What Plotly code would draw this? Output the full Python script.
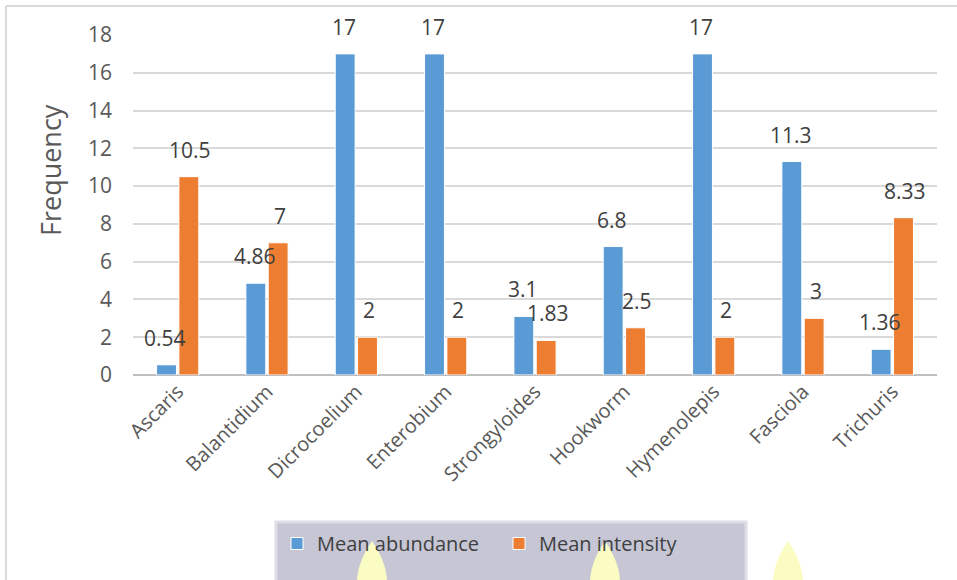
import plotly.graph_objects as go

categories = ["Ascaris", "Balantidium", "Dicrocoelium", "Enterobium", "Strongyloides",
              "Hookworm", "Hymenolepis", "Fasciola", "Trichuris"]
mean_abundance = [0.54, 4.86, 17, 17, 3.1, 6.8, 17, 11.3, 1.36]
mean_intensity = [10.5, 7, 2, 2, 1.83, 2.5, 2, 3, 8.33]
abundance_labels = ["0.54", "4.86", "17", "17", "3.1", "6.8", "17", "11.3", "1.36"]
intensity_labels = ["10.5", "7", "2", "2", "1.83", "2.5", "2", "3", "8.33"]
y_ticks = [0, 2, 4, 6, 8, 10, 12, 14, 16, 18]
y_title = "Frequency"

BLUE = "#5b9bd5"
ORANGE = "#ed7d31"
TXT = "#595959"
FONT = "'Open Sans', sans-serif"

W, H = 957, 580
L, R, T, B = 133, 20, 35, 205
pw, ph = W - L - R, H - T - B

def px_x(px):
    return (px - L) / pw

def px_y(py):
    return (H - B - py) / ph

fig = go.Figure()
fig.add_trace(go.Bar(x=categories, y=mean_abundance, name="Mean abundance",
                     marker=dict(color=BLUE, line=dict(color="white", width=1))))
fig.add_trace(go.Bar(x=categories, y=mean_intensity, name="Mean intensity",
                     marker=dict(color=ORANGE, line=dict(color="white", width=1))))

annotations = []
for c, v, t in zip(categories, mean_abundance, abundance_labels):
    annotations.append(dict(x=c, y=v, text=t, showarrow=False, xshift=-12.5, yshift=11,
                            yanchor="bottom", font=dict(size=21, color="#404040", family=FONT)))
for c, v, t in zip(categories, mean_intensity, intensity_labels):
    annotations.append(dict(x=c, y=v, text=t, showarrow=False, xshift=12.5, yshift=11,
                            yanchor="bottom", font=dict(size=21, color="#404040", family=FONT)))
# y-axis title (placed as in the original, above the axis centre)
annotations.append(dict(xref="paper", yref="paper", x=px_x(50), y=px_y(170), text=y_title,
                        textangle=-90, showarrow=False, xanchor="center", yanchor="middle",
                        font=dict(size=27, color=TXT, family=FONT)))

shapes = [
    # outer chart border (left and top)
    dict(type="line", xref="paper", yref="paper", x0=px_x(6), x1=px_x(6), y0=px_y(6), y1=px_y(580),
         line=dict(color="#d9d9d9", width=2), layer="below"),
    dict(type="line", xref="paper", yref="paper", x0=px_x(6), x1=px_x(957), y0=px_y(6), y1=px_y(6),
         line=dict(color="#d9d9d9", width=2), layer="below"),
    # legend background box
    dict(type="rect", xref="paper", yref="paper", x0=px_x(276), x1=px_x(746), y0=px_y(522), y1=px_y(582),
         fillcolor="#c6c6d5", line=dict(color="#dedee8", width=3), layer="below"),
]
# light yellow watermark drops
for cx in [372, 605, 788]:
    shapes.append(dict(type="path", xref="paper", yref="paper",
                       path=(f"M {px_x(cx)},{px_y(541)} "
                             f"C {px_x(cx+8)},{px_y(552)} {px_x(cx+15)},{px_y(568)} {px_x(cx+15)},{px_y(582)} "
                             f"L {px_x(cx-15)},{px_y(582)} "
                             f"C {px_x(cx-15)},{px_y(568)} {px_x(cx-8)},{px_y(552)} {px_x(cx)},{px_y(541)} Z"),
                       fillcolor="#fbfbc4", line=dict(width=0), layer="below"))

fig.update_layout(
    width=W, height=H,
    margin=dict(l=L, r=R, t=T, b=B, autoexpand=False),
    paper_bgcolor="white", plot_bgcolor="white",
    barmode="group", bargap=0.5, bargroupgap=0.11,
    font=dict(family=FONT, color=TXT, size=20),
    showlegend=True,
    legend=dict(orientation="h", x=px_x(277), y=px_y(524), xanchor="left", yanchor="top",
                bgcolor="rgba(0,0,0,0)", font=dict(size=20, color="#404040", family=FONT),
                entrywidth=177, entrywidthmode="pixels", itemclick=False),
    annotations=annotations,
    shapes=shapes,
    xaxis=dict(showgrid=False, showline=False, ticks="", tickangle=-45,
               tickfont=dict(size=20, color=TXT), zeroline=False),
    yaxis=dict(range=[0, 18], tickvals=y_ticks, showgrid=True, gridcolor="#d9d9d9", gridwidth=1.5,
               zeroline=True, zerolinecolor="#bfbfbf", zerolinewidth=1.5,
               showline=False, ticks="", ticklabelstandoff=20,
               tickfont=dict(size=21, color=TXT)),
)

fig.write_html("out.html")
